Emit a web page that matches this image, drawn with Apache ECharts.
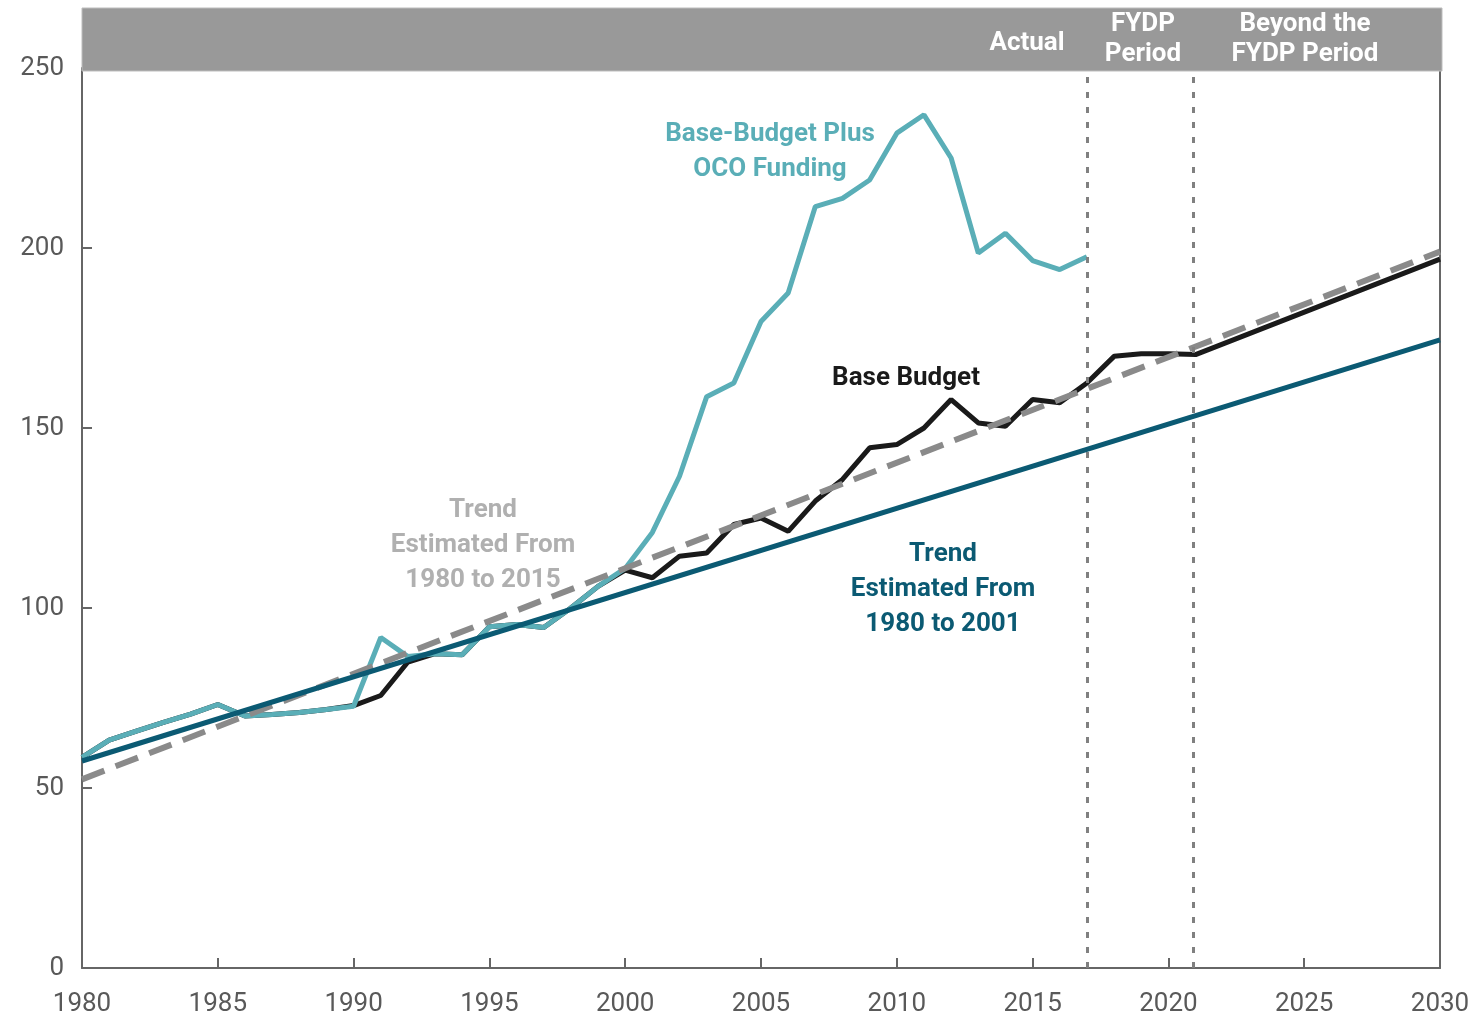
<!DOCTYPE html>
<html>
<head>
<meta charset="utf-8">
<style>
  html, body { margin: 0; padding: 0; background: #fff; }
  #main { width: 1474px; height: 1017px; }
</style>
<script src="https://cdn.jsdelivr.net/npm/echarts@6/dist/echarts.min.js"></script>
</head>
<body>
<div id="main"></div>
<script>
(function() {
    var chartDom = document.getElementById('main');
    var myChart = echarts.init(chartDom);
    var option;

    // actual years shown for the OCO line
    const ocoYears = [1980, 1981, 1982, 1983, 1984, 1985, 1986, 1987, 1988, 1989,
        1990, 1991, 1992, 1993, 1994, 1995, 1996, 1997, 1998, 1999,
        2000, 2001, 2002, 2003, 2004, 2005, 2006, 2007, 2008, 2009,
        2010, 2011, 2012, 2013, 2014, 2015, 2016, 2017];
    const ocoValues = [58.5, 63.3, 65.8, 68.2, 70.5, 73.2, 70.0, 70.4, 71.0, 71.8,
        72.7, 91.8, 86.5, 87.3, 87.0, 94.8, 95.4, 94.6, 100.0, 106.0,
        111.0, 121.0, 136.6, 158.7, 162.5, 179.6, 187.5, 211.5, 213.8, 218.9,
        231.9, 237.0, 225.0, 198.6, 204.1, 196.5, 194.0, 197.6];

    // base budget: actual + FYDP, then the straight projection to 2030
    const baseYears = [1980, 1981, 1982, 1983, 1984, 1985, 1986, 1987, 1988, 1989,
        1990, 1991, 1992, 1993, 1994, 1995, 1996, 1997, 1998, 1999,
        2000, 2001, 2002, 2003, 2004, 2005, 2006, 2007, 2008, 2009,
        2010, 2011, 2012, 2013, 2014, 2015, 2016, 2017, 2018, 2019,
        2020, 2021, 2030];
    const baseValues = [58.5, 63.3, 65.8, 68.2, 70.5, 73.2, 70.0, 70.4, 71.0, 71.8,
        72.9, 75.7, 85.0, 87.3, 87.0, 94.8, 95.4, 94.6, 100.0, 106.0,
        110.5, 108.4, 114.4, 115.3, 123.2, 125.0, 121.3, 129.7, 135.7, 144.5,
        145.4, 150.0, 157.9, 151.4, 150.5, 157.9, 157.0, 162.5, 169.9, 170.6,
        170.6, 170.4, 196.9];

    // trend lines (end points)
    const trend2015Years = [1980, 2030];
    const trend2015Values = [52.4, 199.0];
    const trend2001Years = [1980, 2030];
    const trend2001Values = [57.5, 174.5];

    const periodLines = [2017, 2020.9];

    const xTicks = { min: 1980, max: 2030, step: 5 };
    const yTicks = { min: 0, max: 250, step: 50 };

    function pairs(xs, ys) {
        return xs.map(function(x, i) { return [x, ys[i]]; });
    }

    const labelFont = 'Roboto, "Liberation Sans", sans-serif';
    const annFont = 'bold 26px Roboto, "Liberation Sans", sans-serif';

    function note(x, y, lines, color, lh) {
        return {
            type: 'text',
            x: x,
            y: y,
            style: {
                text: lines.join('\n'),
                font: annFont,
                fill: color,
                align: 'center',
                verticalAlign: 'middle',
                lineHeight: lh || 35
            },
            z: 10
        };
    }

    option = {
        animation: false,
        grid: {
            left: 82,
            right: 34,
            top: 68,
            bottom: 48
        },
        xAxis: {
            type: 'value',
            min: xTicks.min,
            max: xTicks.max,
            interval: xTicks.step,
            axisLine: { show: true, lineStyle: { color: '#666', width: 2 } },
            axisTick: { show: true, inside: true, length: 10, lineStyle: { color: '#666', width: 2 } },
            axisLabel: {
                margin: 23,
                fontSize: 26,
                color: '#595959',
                fontFamily: labelFont,
                formatter: function(v) { return String(v); }
            },
            splitLine: { show: false }
        },
        yAxis: [{
            type: 'value',
            min: yTicks.min,
            max: yTicks.max,
            interval: yTicks.step,
            axisLine: { show: true, lineStyle: { color: '#666', width: 2 } },
            axisTick: { show: true, inside: true, length: 10, lineStyle: { color: '#666', width: 2 } },
            axisLabel: {
                margin: 18,
                fontSize: 26,
                color: '#595959',
                fontFamily: labelFont
            },
            splitLine: { show: false }
        }, {
            type: 'value',
            position: 'right',
            min: yTicks.min,
            max: yTicks.max,
            interval: yTicks.step,
            axisLine: { show: true, lineStyle: { color: '#666', width: 2 } },
            axisTick: { show: false },
            axisLabel: { show: false },
            splitLine: { show: false }
        }],
        graphic: [
            {
                type: 'rect',
                shape: { x: 82, y: 8, width: 1360, height: 63 },
                style: { fill: '#999999', stroke: '#bdbdbd', lineWidth: 1 },
                z: 5
            },
            note(1027, 43, ['Actual'], '#ffffff'),
            note(1143, 39, ['FYDP', 'Period'], '#ffffff', 30),
            note(1305, 39, ['Beyond the', 'FYDP Period'], '#ffffff', 30),
            note(770, 152, ['Base-Budget Plus', 'OCO Funding'], '#5aaeb7'),
            note(906, 378, ['Base Budget'], '#1a1a1a'),
            note(483, 545, ['Trend', 'Estimated From', '1980 to 2015'], '#b0b0b0'),
            note(943, 589, ['Trend', 'Estimated From', '1980 to 2001'], '#0b5a73')
        ],
        series: [
            {
                name: 'Base Budget',
                type: 'line',
                data: pairs(baseYears, baseValues),
                showSymbol: false,
                lineStyle: { color: '#1a1a1a', width: 5 },
                z: 2,
                markLine: {
                    silent: true,
                    symbol: 'none',
                    label: { show: false },
                    lineStyle: { color: '#808080', width: 3, type: [6, 9] },
                    data: periodLines.map(function(y) { return { xAxis: y }; })
                }
            },
            {
                name: 'Base-Budget Plus OCO Funding',
                type: 'line',
                data: pairs(ocoYears, ocoValues),
                showSymbol: false,
                lineStyle: { color: '#5aaeb7', width: 5 },
                z: 3
            },
            {
                name: 'Trend 1980 to 2015',
                type: 'line',
                data: pairs(trend2015Years, trend2015Values),
                showSymbol: false,
                lineStyle: { color: '#8a8a8a', width: 6, type: [24, 12] },
                z: 4
            },
            {
                name: 'Trend 1980 to 2001',
                type: 'line',
                data: pairs(trend2001Years, trend2001Values),
                showSymbol: false,
                lineStyle: { color: '#0b5a73', width: 5 },
                z: 5
            }
        ]
    };

    myChart.setOption(option);
})();
</script>
</body>
</html>
